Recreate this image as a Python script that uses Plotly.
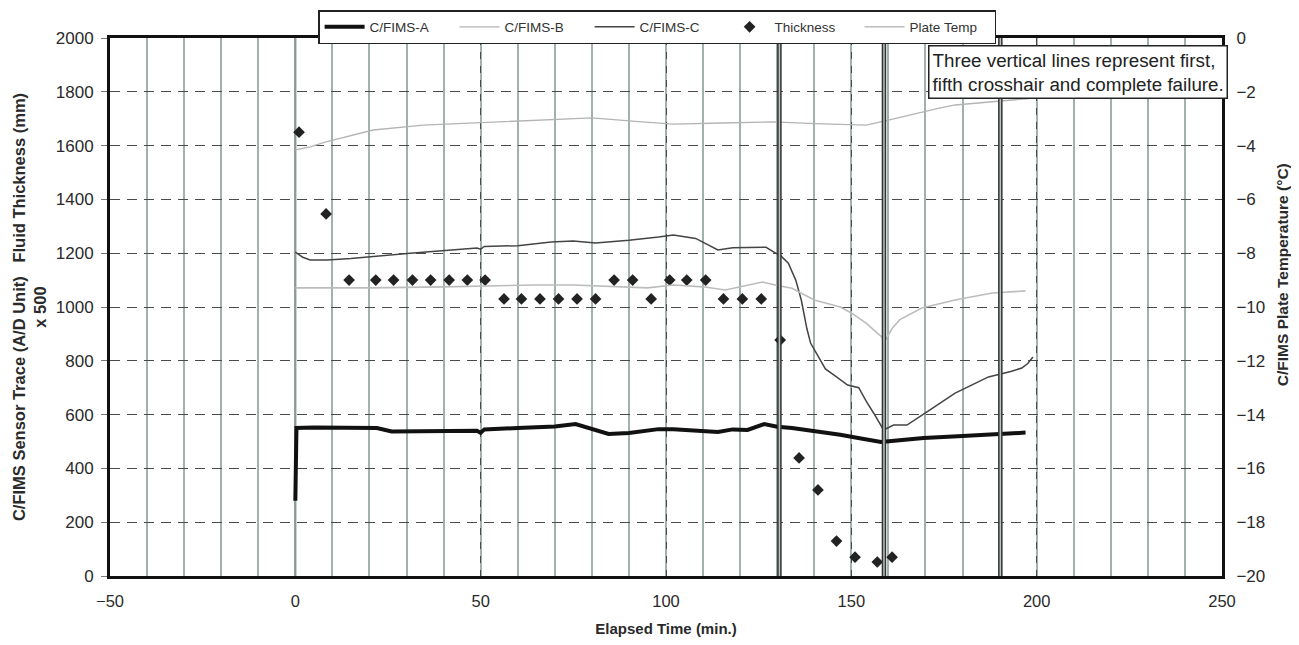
import plotly.graph_objects as go

# ---------------- data ----------------
a_t = [0, 0.3, 5, 15, 22, 26, 35, 49, 50, 51, 60, 70, 75.6, 80, 84.5, 90, 98, 102, 108, 114,
       118, 122, 126.5, 130, 134, 140, 147, 153, 158, 163, 169.5, 180, 190, 197]
a_v = [280, 550, 552, 550, 550, 537, 538, 540, 532, 545, 550, 556, 565, 548, 528, 532, 546, 546, 540, 535,
       545, 543, 565, 555, 550, 540, 525, 510, 498, 505, 513, 520, 527, 533]

b_t = [0, 4, 8, 14, 21, 34.5, 49, 66.5, 80, 93.5, 102, 115, 129, 140, 154, 160, 165, 169, 174, 178, 187, 198]
b_v = [1584, 1595, 1613, 1635, 1658, 1676, 1684, 1695, 1703, 1688, 1680, 1684, 1688, 1682, 1676, 1695,
       1712, 1725, 1740, 1751, 1762, 1775]

c_t = [0, 2, 4, 8.6, 15, 31, 49, 50, 51, 60, 69, 75, 81, 90, 98, 102, 108, 114, 118, 124, 127, 129, 131,
       133, 135, 136.5, 138, 139, 141, 143, 146, 149, 152, 154, 156, 158.7, 161.4, 165, 170, 178, 187, 193,
       196, 197.6, 199]
c_v = [1204, 1185, 1175, 1175, 1180, 1200, 1219, 1215, 1225, 1228, 1242, 1245, 1238, 1248, 1260, 1268, 1255,
       1212, 1220, 1223, 1222, 1205, 1190, 1163, 1100, 1026, 920, 866, 820, 770, 740, 710, 700, 650, 606, 543,
       561, 561, 606, 680, 740, 760, 773, 790, 814]

thick_t = [1, 8.3, 14.5, 21.7, 26.5, 31.6, 36.5, 41.5, 46.4, 51.2, 56.3, 61, 66, 71, 76, 81, 86, 91, 96,
           101, 105.6, 110.7, 115.5, 120.6, 125.7, 130.8, 135.9, 141, 146, 151, 157, 161]
thick_v = [1650, 1346, 1100, 1100, 1100, 1100, 1100, 1100, 1100, 1100, 1030, 1030, 1030, 1030, 1030, 1030,
           1100, 1100, 1030, 1100, 1100, 1100, 1030, 1030, 1030, 877, 439, 320, 130, 70, 52, 70]

temp_t = [0, 20, 40, 65, 75, 95, 102, 110, 116, 122, 126, 130, 134, 140, 147, 150, 154, 157, 159.2, 161,
          163, 169, 178, 188, 197]
temp_v = [-9.29, -9.29, -9.25, -9.18, -9.18, -9.29, -9.18, -9.25, -9.37, -9.20, -9.07, -9.20, -9.30, -9.74,
          -10.00, -10.22, -10.60, -10.97, -11.23, -10.80, -10.48, -10.04, -9.74, -9.48, -9.40]

failure_t = [130.6, 158.8, 190.2]

x_ticks = [-50, 0, 50, 100, 150, 200, 250]
y_range = [0, 2000]
y2_range = [-20, 0]

# ---------------- figure ----------------
FONT = "Liberation Sans, Arial, sans-serif"
TXT = "#2a2a2a"
fig = go.Figure()

fig.add_trace(go.Scatter(x=a_t, y=a_v, name="C/FIMS-A", mode="lines",
                         line=dict(color="#111111", width=4)))
fig.add_trace(go.Scatter(x=b_t, y=b_v, name="C/FIMS-B", mode="lines",
                         line=dict(color="#b4b4b4", width=1.3)))
fig.add_trace(go.Scatter(x=c_t, y=c_v, name="C/FIMS-C", mode="lines",
                         line=dict(color="#444444", width=1.5)))
fig.add_trace(go.Scatter(x=thick_t, y=thick_v, name="Thickness", mode="markers",
                         marker=dict(symbol="diamond", color="#222222", size=9)))
fig.add_trace(go.Scatter(x=temp_t, y=temp_v, name="Plate Temp", mode="lines", yaxis="y2",
                         line=dict(color="#bcbcbc", width=1.6)))

shapes = []
# solid grey grid line at x = 0, between the gridlines and the traces
shapes.append(dict(type="line", xref="x", yref="y", x0=0, x1=0, y0=y_range[0], y1=y_range[1],
                   line=dict(color="#8c9c94", width=2.2), layer="between"))
for ft in failure_t:
    shapes.append(dict(type="line", xref="x", yref="paper", x0=ft, x1=ft, y0=0, y1=1,
                       line=dict(color="#333333", width=4.5), layer="above"))
    shapes.append(dict(type="line", xref="x", yref="paper", x0=ft, x1=ft, y0=0, y1=1,
                       line=dict(color="#b8c4bc", width=1.5), layer="above"))

NB = "&nbsp;" * 15

# page body has an 8px margin, so the figure is sized to the visible window
fig.update_layout(
    width=1283, height=629,
    margin=dict(l=102, r=69, t=30, b=61, autoexpand=False),
    paper_bgcolor="white", plot_bgcolor="white",
    font=dict(family=FONT, color=TXT, size=13),
    showlegend=True,
    legend=dict(orientation="h", x=0.492, xanchor="center", y=1.052, yanchor="top",
                bgcolor="white", bordercolor="#222222", borderwidth=1.5,
                font=dict(size=13.5, color="#333333"), itemwidth=40, entrywidth=80,
                traceorder="normal"),
    shapes=shapes,
    annotations=[dict(
        text="Three vertical lines represent first,<br>fifth crosshair and complete failure.",
        xref="paper", yref="paper", x=0.736, y=0.987, xanchor="left", yanchor="top",
        showarrow=False, align="left", bgcolor="white", bordercolor="#222222", borderwidth=1.5,
        borderpad=3, font=dict(size=18.8, color="#222222", family=FONT))],
    xaxis=dict(
        domain=[0, 1], range=[-50, 250], tickvals=x_ticks, showline=True, linecolor="#111111",
        linewidth=3, mirror=True,
        showgrid=True, gridcolor="#4a4a4a", griddash="7px,7px", gridwidth=1.2,
        minor=dict(dtick=10, tick0=0, showgrid=True, gridcolor="#a0b2a9", gridwidth=2, griddash="solid"),
        zeroline=False, ticks="", automargin=False, ticklabelstandoff=8,
        tickfont=dict(size=16.5, color=TXT),
        title=dict(text="<b>Elapsed Time (min.)</b>", font=dict(size=15, color=TXT), standoff=26),
    ),
    yaxis=dict(
        range=y_range, dtick=200, showline=True, linecolor="#111111", linewidth=3, mirror=True,
        showgrid=True, gridcolor="#4a4a4a", griddash="10px,7px", gridwidth=1.2, zeroline=False,
        ticks="outside", ticklen=6, tickcolor="#777777", automargin=False, ticklabelstandoff=4,
        tickfont=dict(size=17, color=TXT),
        title=dict(text="<b>C/FIMS Sensor Trace (A/D Unit)   Fluid Thickness (mm)<br>x 500</b>",
                   font=dict(size=16.5, color=TXT), standoff=5),
    ),
    yaxis2=dict(
        overlaying="y", side="right", anchor="x",
        range=y2_range, dtick=2, showgrid=False, zeroline=False, showline=False,
        ticks="outside", ticklen=10, tickcolor="rgba(0,0,0,0)", automargin=False,
        tickfont=dict(size=17, color=TXT),
        title=dict(text="<b>" + NB + "C/FIMS Plate Temperature (°C)</b>",
                   font=dict(size=15.5, color=TXT), standoff=19),
    ),
)

fig.write_html("out.html")
